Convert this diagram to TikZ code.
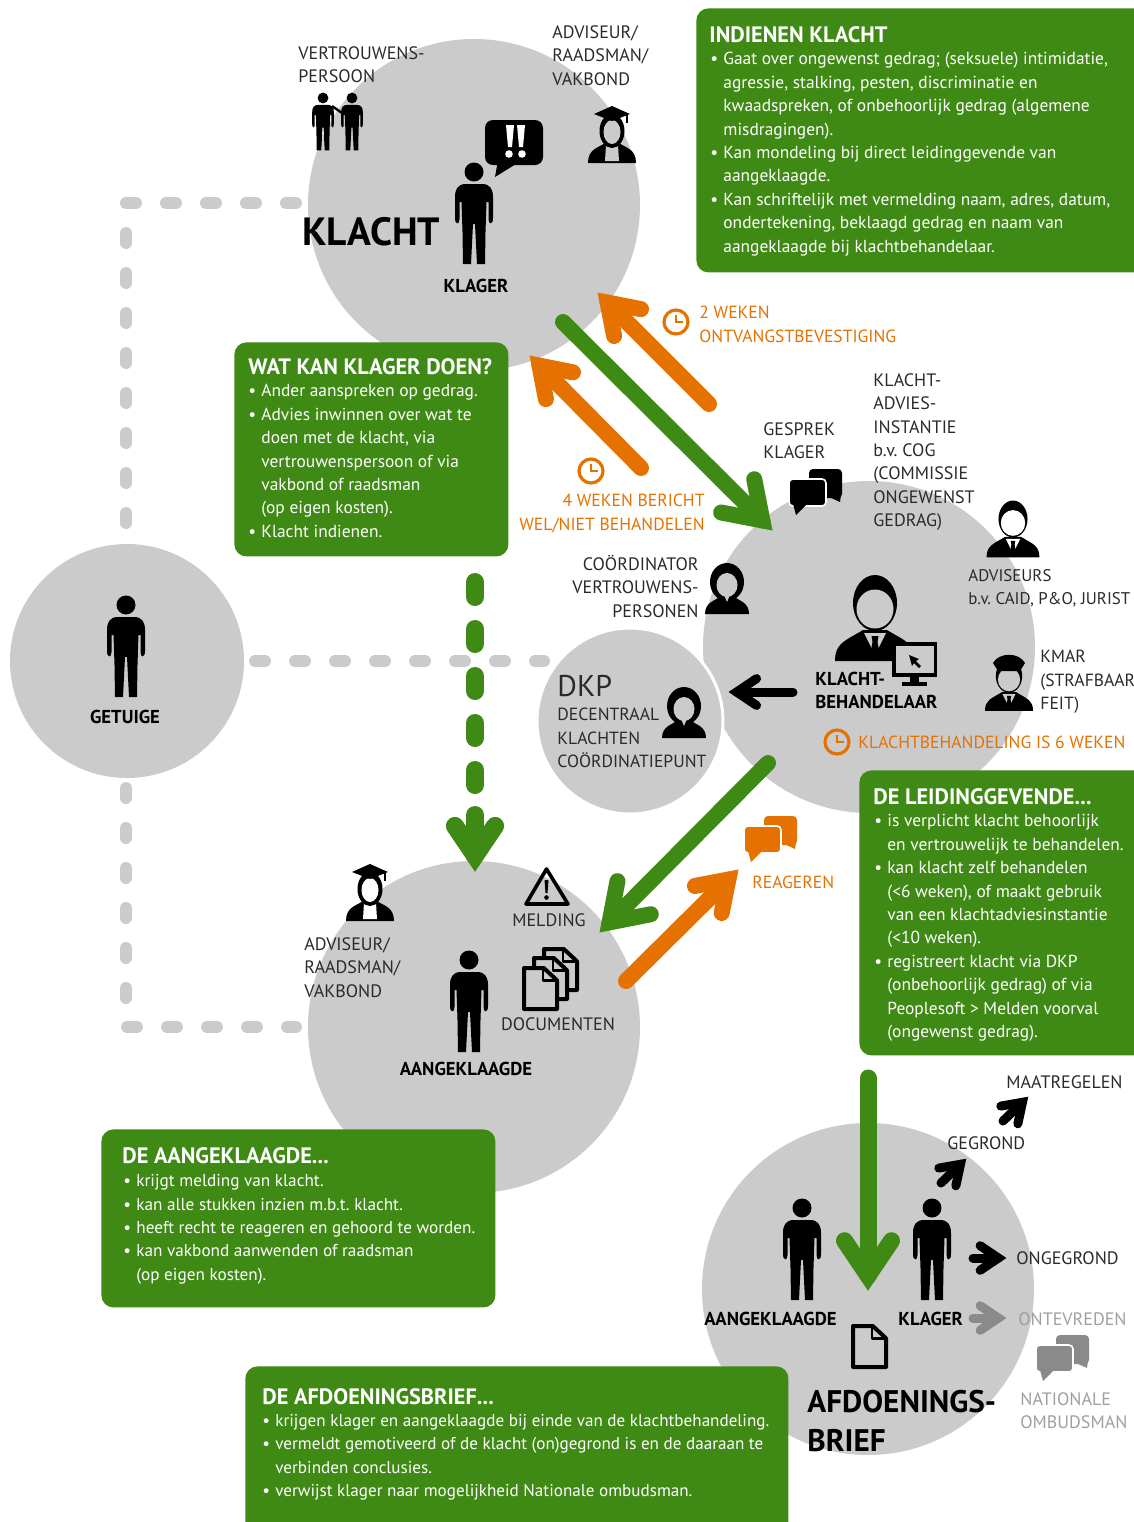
\documentclass[tikz,border=0pt]{standalone}
\usepackage{fontspec}
\setmainfont{PT Sans}
\AtBeginDocument{\frenchspacing}
\usetikzlibrary{calc}
\definecolor{grn}{HTML}{3E8A14}
\definecolor{org}{HTML}{E57200}
\definecolor{gry}{HTML}{CBCBCB}
\definecolor{dgry}{HTML}{8A8A8A}
\definecolor{txt}{HTML}{2A2A2A}
\newcommand\fs[2]{\fontsize{#1}{#2}\selectfont}
\newcommand\bl{\makebox[6.5pt][l]{•}}
\newcommand\nb{\hspace*{6.5pt}}
\newcommand\bigarrow[5]{%
 \coordinate (tmpT) at ($(#4)!{0.85*#2 pt}!(#3)$);
 \draw[#1,line width=#2 pt,line cap=round] (#3) -- (tmpT);
 \draw[#1,line width=#2 pt,line cap=round,line join=miter] ($(tmpT)!#5 pt!34:(#3)$) -- (tmpT) -- ($(tmpT)!#5 pt!-34:(#3)$);
}
\newcommand\persona[3]{\begin{scope}[shift={(#1,#2)},scale=#3]
 \fill[black] (0,0) circle (9.5);
 \fill[black] (-8,12) .. controls (-16,12) and (-19,17) .. (-19,25) -- (-19,46) .. controls (-19,53) and (-14.5,53) .. (-14.5,47) -- (-14.5,30) -- (-12.5,30) -- (-11.5,60) -- (-11,92) -- (-3,92) -- (-1,52) -- (1,52) -- (3,92) -- (11,92) -- (11.5,60) -- (12.5,30) -- (14.5,30) -- (14.5,47) .. controls (14.5,53) and (19,53) .. (19,46) -- (19,25) .. controls (19,17) and (16,12) .. (8,12) -- cycle;
\end{scope}}
\newcommand\manbust[4]{\begin{scope}[shift={(#1,#2)},scale=#3]
 \fill[black] (-40,58) .. controls (-40,40) and (-30,38) .. (-12,27) -- (12,27) .. controls (30,38) and (40,40) .. (40,58) -- cycle;
 \fill[#4] (-11,30) -- (0,52) -- (11,30) -- cycle;
 \fill[black] (-3.5,33) -- (3.5,33) -- (2.5,39) -- (5,52) -- (0,58) -- (-5,52) -- (-2.5,39) -- cycle;
 \fill[black] (0,0) ellipse (22 and 28);
 \fill[#4] (0,6) ellipse (18.5 and 19.5);
\end{scope}}
\newcommand\womanbust[4]{\begin{scope}[shift={(#1,#2)},scale=#3]
 \fill[black] (0,-6) ellipse (17 and 19);
 \fill[black] (-22,26) .. controls (-22,14) and (-12,13) .. (-6,8) -- (6,8) .. controls (12,13) and (22,14) .. (22,26) -- cycle;
 \fill[#4] (-5,2) -- (0,14) -- (5,2) -- cycle;
 \fill[#4] (0,-3) ellipse (10.5 and 12);
\end{scope}}
\newcommand\gradbust[4]{\begin{scope}[shift={(#1,#2)},scale=#3]
 \fill[black] (-24,29) .. controls (-24,15) and (-14,14) .. (-7,9) -- (7,9) .. controls (14,14) and (24,15) .. (24,29) -- cycle;
 \fill[#4] (-6,11) -- (6,11) -- (7,27) -- (-7,27) -- cycle;
 \fill[black] (0,-3) ellipse (12.5 and 17);
 \fill[#4] (0,-2) ellipse (8.5 and 12);
 \fill[black] (-18,-20) -- (0,-28) -- (18,-20) -- (0,-13) -- cycle;
 \draw[black,line width=.6pt] (15,-20) -- (15,-11);
\end{scope}}
\newcommand\chat[5]{\begin{scope}[shift={(#1,#2)},scale=#3]
 \fill[#4,rounded corners=2pt] (20,0) rectangle (53,29);
 \fill[#4] (40,28) -- (51,33) -- (52,26) -- cycle;
 \draw[#5,line width=.8pt,fill=#4,rounded corners=2pt] (0,10) rectangle (37,37);
 \fill[#4] (4,35) -- (7,46) -- (17,36) -- cycle;
\end{scope}}
\newcommand\page[6]{%x y w h fill line
 \draw[#6,line width=2pt,line join=round,fill=#5] (#1,#2) -- ({#1+#3*0.6},#2) -- ({#1+#3},{#2+#4*0.3}) -- ({#1+#3},{#2+#4}) -- (#1,{#2+#4}) -- cycle;
 \draw[#6,line width=1.2pt,line join=round] ({#1+#3*0.58},#2) -- ({#1+#3*0.58},{#2+#4*0.3}) -- ({#1+#3},{#2+#4*0.3});
}
\newcommand\clockicon[2]{%
 \draw[org,line width=1.6pt] (#1,#2) circle (12);
 \draw[org,line width=1.3pt] (#1,{#2-7}) -- (#1,#2) -- ({#1+7},#2);
}
\tikzset{
 circ/.style={circle,fill=gry,inner sep=0pt},
 gbox/.style={rectangle,rounded corners=6pt,fill=grn,inner sep=0pt,anchor=north west},
 lbl/.style={inner sep=0pt,anchor=north west,align=left,text=txt,font=\fs{9}{11.7}},
 nlbl/.style={lbl,font=\fs{8.8}{11.7}},
 rlbl/.style={lbl,anchor=north east,align=right},
 bld/.style={inner sep=0pt,text=black,font=\bfseries\fs{9.35}{11.6}},
 olbl/.style={nlbl,text=org},
 glbl/.style={lbl,text=gray!75},
 ttl/.style={inner sep=0pt,anchor=north west,text=white,font=\bfseries\fs{11.15}{13}},
 btxt/.style={inner sep=0pt,anchor=north west,align=left,text=white,font=\fs{8.7}{11.72}},
 dashline/.style={gry,line width=6pt,line cap=round,dash pattern=on 5pt off 15pt},
}
\begin{document}
\begin{tikzpicture}[x=0.5pt,y=-0.5pt]
\useasboundingbox (0,0) rectangle (1134,1522);
\clip (0,0) rectangle (1134,1522);
% circles
\node[circ,minimum size=166pt] (cKlacht) at (474,205) {};
\node[circ,minimum size=117pt] (cGetuige) at (127,661) {};
\node[circ,minimum size=166pt] (cKB) at (869,647) {};
\node[circ,draw=white,line width=1.5pt,minimum size=93pt] (cDKP) at (630,721) {};
\node[circ,minimum size=166pt] (cAang) at (474,1027) {};
\node[circ,minimum size=166pt] (cAfd) at (868,1289) {};
% dashed lines
\coordinate (d1) at (296,203); \coordinate (d2) at (126,203); \coordinate (d3) at (126,538);
\coordinate (d4) at (126,1027); \coordinate (d5) at (296,1027); \coordinate (d6) at (126,788);
\coordinate (d7) at (255,661); \coordinate (d8) at (544,661);
\draw[dashline] (d1) -- (d2) -- (d3);
\draw[dashline] (d6) -- (d4) -- (d5);
\draw[dashline] (d7) -- (d8);
% boxes
\node[gbox,minimum width=240pt,minimum height=132pt] (bIndienen) at (696,8) {};
\node[gbox,minimum width=137pt,minimum height=107pt] (bWat) at (234,342) {};
\node[gbox,minimum width=160pt,minimum height=142.5pt] (bLeid) at (859,770) {};
\node[gbox,minimum width=197pt,minimum height=89pt] (bAang) at (101,1129) {};
\node[gbox,minimum width=271.5pt,minimum height=90pt] (bAfd) at (245,1366) {};
% box text
\node[ttl] (tIndienen) at (709,26) {INDIENEN KLACHT};
\node[btxt] (xIndienen) at (710,52) {\bl Gaat over ongewenst gedrag; (seksuele) intimidatie,\\\nb agressie, stalking, pesten, discriminatie en\\\nb kwaadspreken, of onbehoorlijk gedrag (algemene\\\nb misdragingen).\\\bl Kan mondeling bij direct leidinggevende van\\\nb aangeklaagde.\\\bl Kan schriftelijk met vermelding naam, adres, datum,\\\nb ondertekening, beklaagd gedrag en naam van\\\nb aangeklaagde bij klachtbehandelaar.};
\node[ttl] (tWat) at (248,358) {WAT KAN KLAGER DOEN?};
\node[btxt] (xWat) at (248,384) {\bl Ander aanspreken op gedrag.\\\bl Advies inwinnen over wat te\\\nb doen met de klacht, via\\\nb vertrouwenspersoon of via\\\nb vakbond of raadsman\\\nb (op eigen kosten).\\\bl Klacht indienen.};
\node[ttl] (tLeid) at (873,788) {DE LEIDINGGEVENDE...};
\node[btxt] (xLeid) at (874,814) {\bl is verplicht klacht behoorlijk\\\nb en vertrouwelijk te behandelen.\\\bl kan klacht zelf behandelen\\\nb (<6 weken), of maakt gebruik\\\nb van een klachtadviesinstantie\\\nb (<10 weken).\\\bl registreert klacht via DKP\\\nb (onbehoorlijk gedrag) of via\\\nb Peoplesoft > Melden voorval\\\nb (ongewenst gedrag).};
\node[ttl] (tAang) at (122,1147) {DE AANGEKLAAGDE...};
\node[btxt,font=\fs{8.6}{11.72}] (xAang) at (123,1174) {\bl krijgt melding van klacht.\\\bl kan alle stukken inzien m.b.t. klacht.\\\bl heeft recht te reageren en gehoord te worden.\\\bl kan vakbond aanwenden of raadsman\\\nb (op eigen kosten).};
\node[ttl] (tAfd) at (262,1388) {DE AFDOENINGSBRIEF...};
\node[btxt,font=\fs{8.55}{11.72}] (xAfd) at (262,1414) {\bl krijgen klager en aangeklaagde bij einde van de klachtbehandeling.\\\bl vermeldt gemotiveerd of de klacht (on)gegrond is en de daaraan te\\\nb verbinden conclusies.\\\bl verwijst klager naar mogelijkheid Nationale ombudsman.};
% arrows
\coordinate (a1s) at (563,322); \coordinate (a1e) at (772,530);
\coordinate (a2s) at (709,404); \coordinate (a2e) at (598,293);
\coordinate (a3s) at (641,468); \coordinate (a3e) at (530,356);
\coordinate (a4s) at (768,763); \coordinate (a4e) at (600,932);
\coordinate (a5s) at (626,981); \coordinate (a5e) at (738,870);
\coordinate (a6s) at (868,1078); \coordinate (a6e) at (868,1290);
\coordinate (a7s) at (475,815); \coordinate (a7e) at (475,871);
\coordinate (a8s) at (475,582); \coordinate (a8e) at (475,800);
\coordinate (a9s) at (793,692); \coordinate (a9e) at (729,692);
\coordinate (a10s) at (941,1183); \coordinate (a10e) at (966,1159);
\coordinate (a11s) at (1003,1121); \coordinate (a11e) at (1028,1097);
\coordinate (a12s) at (973,1258); \coordinate (a12e) at (1006,1258);
\coordinate (a13s) at (973,1318); \coordinate (a13e) at (1006,1318);
\bigarrow{grn}{8}{a1s}{a1e}{21}
\bigarrow{org}{8}{a2s}{a2e}{17}
\bigarrow{org}{8}{a3s}{a3e}{17}
\bigarrow{grn}{8}{a4s}{a4e}{21}
\bigarrow{org}{8}{a5s}{a5e}{17}
\bigarrow{grn}{8.5}{a6s}{a6e}{21}
\bigarrow{grn}{9}{a7s}{a7e}{18}
\draw[grn,line width=9pt,line cap=round,dash pattern=on 7.5pt off 16pt] (a8s) -- (a8e);
\bigarrow{black}{4.5}{a9s}{a9e}{12}
\bigarrow{black}{4.5}{a10s}{a10e}{11}
\bigarrow{black}{4.5}{a11s}{a11e}{11}
\bigarrow{black}{4.5}{a12s}{a12e}{11}
\bigarrow{dgry}{4.5}{a13s}{a13e}{11}
% people
\persona{474}{172}{1}
\persona{126}{605}{1}
\persona{469}{960}{1}
\persona{802}{1208}{1}
\persona{932}{1208}{1}
\persona{323}{98}{.57}
\persona{352}{98}{.57}
\draw[black,line width=1.2pt] (332,106) -- (342,113);
\gradbust{612}{134}{1}{gry}
\gradbust{370}{892}{1}{white}
\manbust{875}{603}{1}{gry}
\manbust{1013}{519}{.66}{white}
\manbust{1009}{676}{.6}{gry}
\begin{scope}[shift={(1009,676)}]
 \fill[black] (-16,-13) .. controls (-10,-24) and (10,-24) .. (16,-13) -- (11,-5) -- (-11,-5) -- cycle;
\end{scope}
\womanbust{727}{588}{1}{gry}
\womanbust{684}{712}{1}{gry}
% monitor
\fill[black] (892,642) rectangle (937,677);
\fill[gry] (895.5,646) rectangle (933.5,673);
\fill[black] (910,677) rectangle (919,682);
\fill[black] (902,682) rectangle (927,686);
\fill[black] (909,655) -- (919,659) -- (916,661) -- (921,666) -- (919,668) -- (914,663) -- (912,666) -- cycle;
% exclamation bubble
\fill[black,rounded corners=4pt] (485,120) rectangle (543,165);
\fill[black] (498,160) -- (495,177) -- (516,164) -- cycle;
\fill[white] (506,125) -- (514,125) -- (512,147) -- (508,147) -- cycle;
\fill[white] (517,125) -- (525,125) -- (523,147) -- (519,147) -- cycle;
\fill[white] (509,154) circle (3.8);
\fill[white] (522,154) circle (3.8);
% chat icons
\chat{789}{469}{1}{black}{white}
\chat{744}{816}{1}{org}{white}
\chat{1036}{1335}{1}{dgry}{white}
% warning
\draw[black,line width=1.8pt,line join=round] (546.5,869) -- (526,904) -- (568,904) -- cycle;
\fill[black] (544.5,880) -- (548.5,880) -- (547.5,893) -- (545.5,893) -- cycle;
\fill[black] (546.5,897.5) circle (2.3);
% documents
\page{544}{949}{33}{41}{gry}{black}
\page{534}{958}{33}{41}{gry}{black}
\page{524}{968}{33}{41}{gry}{black}
\page{853}{1326}{33}{41}{gry}{black}
% clocks
\clockicon{676}{322}
\clockicon{591}{471}
\clockicon{837}{742}
% labels
\node[lbl] (lVP) at (298,46) {VERTROUWENS-\\PERSOON};
\node[lbl] (lAdv1) at (552,25) {ADVISEUR/\\RAADSMAN/\\VAKBOND};
\node[inner sep=0pt,anchor=west,text=black,font=\bfseries\fs{19.7}{22}] (lKlacht) at (302,232) {KLACHT};
\node[bld] (lKlager) at (476,286) {KLAGER};
\node[olbl] (l2w) at (699,306) {2 WEKEN\\ONTVANGSTBEVESTIGING};
\node[rlbl,font=\fs{8.8}{11.7},text=org] (l4w) at (705,494) {4 WEKEN BERICHT\\WEL/NIET BEHANDELEN};
\node[lbl] (lGes) at (763,422) {GESPREK\\KLAGER};
\node[lbl] (lKAI) at (873,373) {KLACHT-\\ADVIES-\\INSTANTIE\\b.v. COG\\(COMMISSIE\\ONGEWENST\\GEDRAG)};
\node[rlbl] (lCoord) at (699,555) {COÖRDINATOR\\VERTROUWENS-\\PERSONEN};
\node[nlbl,font=\fs{8.45}{11.7}] (lAdvs) at (968,569) {ADVISEURS\\b.v. CAID, P\&O, JURIST};
\node[nlbl] (lKmar) at (1040,650) {KMAR\\(STRAFBAAR\\FEIT)};
\node[bld,anchor=north west,align=left] (lKB) at (815,672) {KLACHT-\\BEHANDELAAR};
\node[olbl,anchor=west] (l6w) at (858,742) {KLACHTBEHANDELING IS 6 WEKEN};
\node[inner sep=0pt,anchor=west,text=txt,font=\fs{15}{18}] (lDKP) at (557,686) {DKP};
\node[nlbl] (lDKP2) at (557,708) {DECENTRAAL\\KLACHTEN\\COÖRDINATIEPUNT};
\node[bld] (lGet) at (125,717) {GETUIGE};
\node[lbl] (lAdv2) at (304,937) {ADVISEUR/\\RAADSMAN/\\VAKBOND};
\node[lbl,anchor=center] (lMeld) at (549,920) {MELDING};
\node[lbl,anchor=center] (lDoc) at (558,1024) {DOCUMENTEN};
\node[bld] (lAang) at (466,1069) {AANGEKLAAGDE};
\node[olbl,anchor=west] (lReag) at (752,882) {REAGEREN};
\node[lbl,anchor=west] (lMaat) at (1006,1082) {MAATREGELEN};
\node[lbl,anchor=west] (lGeg) at (947,1143) {GEGROND};
\node[lbl,anchor=west] (lOng) at (1016,1258) {ONGEGROND};
\node[glbl,anchor=west] (lOnt) at (1018,1319) {ONTEVREDEN};
\node[glbl] (lNat) at (1020,1392) {NATIONALE\\OMBUDSMAN};
\node[bld,anchor=west] (lAang2) at (704,1319) {AANGEKLAAGDE};
\node[bld,anchor=west] (lKlag2) at (898,1319) {KLAGER};
\node[inner sep=0pt,anchor=north west,align=left,text=black,font=\bfseries\fs{15.6}{19.2}] (lBrief) at (807,1390) {AFDOENINGS-\\BRIEF};
\end{tikzpicture}
\end{document}
